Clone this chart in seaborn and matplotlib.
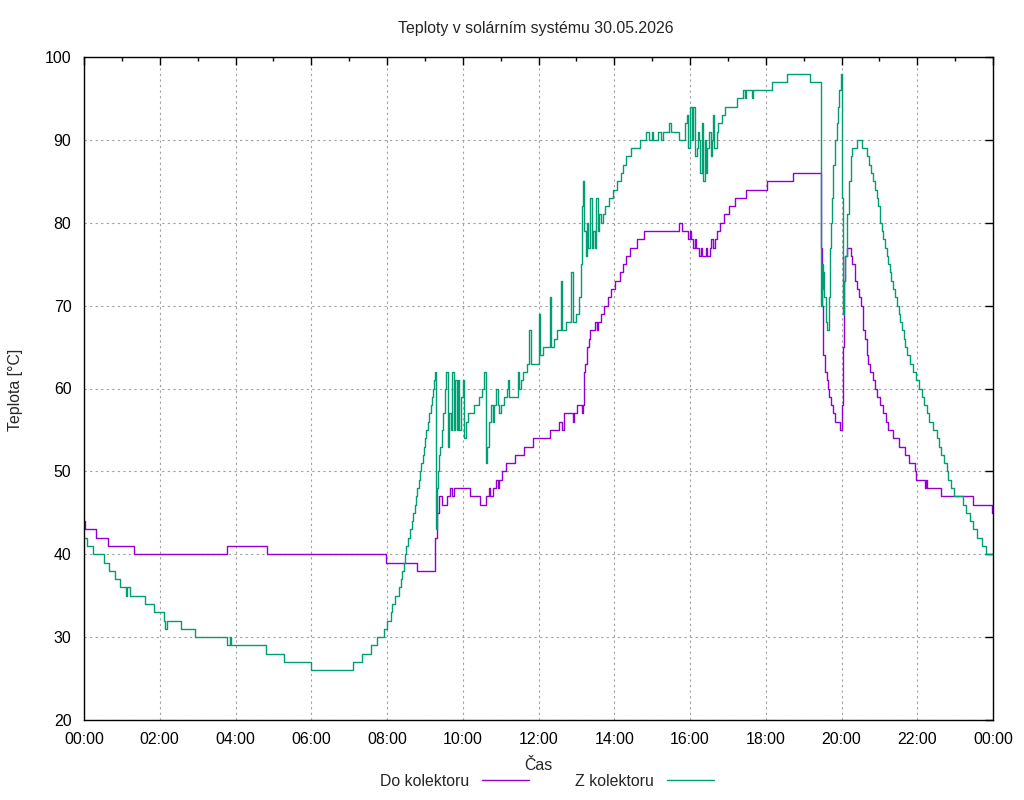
import matplotlib
matplotlib.use('Agg')
import matplotlib.pyplot as plt
import seaborn as sns

# teplota do kolektoru (cas v hodinach, teplota ve °C), schodovity prubeh
do_time = [0.0, 0.03, 0.31, 0.63, 1.32, 3.78, 4.83, 7.97, 8.8, 9.28, 9.31, 9.36, 9.46, 9.58,
           9.66, 9.72, 9.76, 10.19, 10.46, 10.61, 10.68, 10.72, 10.8, 10.88, 10.93, 10.96,
           11.03, 11.13, 11.38, 11.62, 11.85, 12.3, 12.55, 12.62, 12.67, 12.9, 12.93, 13.02,
           13.14, 13.17, 13.2, 13.24, 13.29, 13.33, 13.37, 13.48, 13.54, 13.57, 13.66, 13.72,
           13.83, 13.92, 14.01, 14.14, 14.23, 14.32, 14.42, 14.6, 14.78, 15.72, 15.78, 15.96,
           16.0, 16.03, 16.08, 16.12, 16.17, 16.24, 16.28, 16.32, 16.43, 16.46, 16.52, 16.56,
           16.61, 16.65, 16.7, 16.78, 16.91, 17.03, 17.2, 17.48, 18.04, 18.71, 19.45, 19.48,
           19.5, 19.52, 19.56, 19.61, 19.65, 19.68, 19.72, 19.77, 19.83, 19.96, 20.02, 20.04,
           20.07, 20.09, 20.14, 20.24, 20.29, 20.36, 20.42, 20.46, 20.51, 20.56, 20.62, 20.67,
           20.71, 20.75, 20.82, 20.88, 20.95, 21.02, 21.09, 21.17, 21.24, 21.37, 21.53, 21.68,
           21.79, 21.94, 21.98, 22.21, 22.24, 22.27, 22.64, 23.48, 23.98, 24.0]
do_temp = [44, 43, 42, 41, 40, 41, 40, 39, 38, 42, 45, 47, 46, 47,
           48, 47, 48, 47, 46, 47, 48, 47, 48, 49, 48, 49,
           50, 51, 52, 53, 54, 55, 56, 55, 57, 56, 57, 58,
           57, 58, 62, 63, 65, 66, 67, 68, 67, 68, 69, 70,
           71, 72, 73, 74, 75, 76, 77, 78, 79, 80, 79, 78,
           79, 78, 77, 78, 77, 76, 77, 76, 77, 76, 77, 78,
           77, 78, 79, 80, 81, 82, 83, 84, 85, 86, 77, 70,
           68, 64, 62, 61, 60, 59, 58, 57, 56, 55, 58, 65,
           73, 76, 77, 76, 75, 73, 72, 71, 70, 67, 66, 64,
           63, 62, 61, 60, 59, 58, 57, 56, 55, 54, 53, 52,
           51, 50, 49, 48, 49, 48, 47, 46, 45, 45]

# teplota z kolektoru
z_time = [0.0, 0.09, 0.25, 0.53, 0.66, 0.81, 0.95, 1.12, 1.14, 1.21, 1.61, 1.85, 2.11, 2.15,
          2.18, 2.55, 2.93, 3.77, 3.85, 3.87, 4.8, 5.28, 6.0, 7.11, 7.33, 7.59, 7.74, 7.92,
          8.01, 8.1, 8.14, 8.21, 8.32, 8.36, 8.4, 8.45, 8.47, 8.51, 8.55, 8.6, 8.65, 8.69,
          8.73, 8.77, 8.8, 8.84, 8.87, 8.91, 8.94, 8.97, 9.0, 9.04, 9.08, 9.12, 9.16, 9.19,
          9.22, 9.25, 9.27, 9.29, 9.31, 9.34, 9.38, 9.41, 9.45, 9.49, 9.53, 9.56, 9.6, 9.64,
          9.69, 9.72, 9.76, 9.8, 9.85, 9.88, 9.91, 9.95, 10.0, 10.04, 10.08, 10.15, 10.3,
          10.42, 10.5, 10.57, 10.61, 10.64, 10.68, 10.74, 10.79, 10.83, 10.88, 10.92, 10.96,
          11.0, 11.08, 11.16, 11.2, 11.23, 11.45, 11.48, 11.53, 11.6, 11.69, 11.76, 11.79,
          12.02, 12.05, 12.11, 12.3, 12.34, 12.42, 12.5, 12.59, 12.62, 12.72, 12.87, 12.9,
          12.98, 13.08, 13.13, 13.16, 13.18, 13.21, 13.25, 13.29, 13.32, 13.36, 13.4, 13.44,
          13.48, 13.52, 13.56, 13.6, 13.65, 13.7, 13.76, 13.87, 13.97, 14.07, 14.17, 14.23,
          14.3, 14.45, 14.67, 14.83, 14.93, 15.0, 15.02, 15.16, 15.24, 15.3, 15.45, 15.5,
          15.72, 15.87, 15.91, 15.96, 16.0, 16.04, 16.09, 16.13, 16.18, 16.22, 16.24, 16.26,
          16.31, 16.35, 16.4, 16.42, 16.46, 16.5, 16.55, 16.58, 16.6, 16.63, 16.7, 16.75,
          16.84, 16.92, 17.23, 17.41, 17.45, 17.48, 17.63, 17.66, 18.16, 18.55, 19.17, 19.45,
          19.47, 19.49, 19.5, 19.52, 19.55, 19.58, 19.63, 19.66, 19.7, 19.72, 19.76, 19.78,
          19.83, 19.87, 19.9, 19.94, 19.98, 20.02, 20.04, 20.07, 20.09, 20.14, 20.15, 20.19,
          20.21, 20.24, 20.29, 20.4, 20.53, 20.67, 20.73, 20.77, 20.82, 20.88, 20.93, 20.97,
          21.02, 21.06, 21.1, 21.15, 21.19, 21.24, 21.28, 21.32, 21.35, 21.41, 21.47, 21.51,
          21.54, 21.61, 21.65, 21.68, 21.74, 21.81, 21.88, 21.98, 22.05, 22.12, 22.18, 22.25,
          22.32, 22.42, 22.53, 22.58, 22.64, 22.71, 22.78, 22.82, 22.88, 22.97, 23.2, 23.29,
          23.38, 23.46, 23.59, 23.7, 23.81, 24.0]
z_temp = [42, 41, 40, 39, 38, 37, 36, 35, 36, 35, 34, 33, 32, 31,
          32, 31, 30, 29, 30, 29, 28, 27, 26, 27, 28, 29, 30, 31,
          32, 33, 34, 35, 36, 37, 38, 39, 40, 41, 42, 43, 44, 45,
          46, 47, 48, 49, 50, 51, 52, 53, 54, 55, 56, 57, 58, 59,
          60, 61, 62, 43, 48, 50, 52, 53, 55, 57, 60, 62, 53, 57,
          55, 62, 55, 61, 55, 61, 55, 59, 61, 54, 56, 57, 58,
          59, 60, 62, 51, 53, 56, 58, 56, 58, 60, 58, 57,
          58, 59, 60, 61, 59, 62, 60, 61, 62, 63, 67, 63,
          69, 64, 65, 71, 65, 66, 67, 73, 67, 68, 74, 68,
          69, 71, 75, 82, 85, 79, 76, 80, 77, 83, 77, 79,
          77, 83, 79, 81, 80, 81, 82, 83, 84, 85, 86, 87,
          88, 89, 90, 91, 90, 91, 90, 91, 90, 91, 92, 91,
          90, 92, 93, 89, 94, 90, 94, 88, 89, 91, 90, 86,
          92, 85, 90, 86, 89, 91, 88, 90, 93, 89, 91, 92,
          93, 94, 95, 96, 95, 96, 95, 96, 97, 98, 97, 89,
          70, 75, 72, 74, 71, 68, 67, 71, 77, 80, 83, 87,
          90, 92, 94, 96, 98, 83, 69, 73, 76, 78, 81, 83,
          85, 88, 89, 90, 89, 88, 87, 86, 85, 84, 83, 82,
          80, 79, 78, 77, 76, 75, 74, 73, 72, 71, 70, 69,
          68, 67, 66, 65, 64, 63, 62, 61, 60, 59, 58, 57,
          56, 55, 54, 53, 52, 51, 50, 49, 48, 47, 46, 45,
          44, 43, 42, 41, 40, 40]

hour_ticks = list(range(0, 25, 2))
hour_labels = ['%02d:00' % (h % 24) for h in hour_ticks]
temp_ticks = list(range(20, 101, 10))

sns.set_style('white')
plt.rcParams['font.family'] = ['Liberation Sans', 'DejaVu Sans']
fs = 11.4
plt.rcParams['font.size'] = fs

fig = plt.figure(figsize=(10.24, 8), dpi=100)
ax = fig.add_axes([84 / 1024, 80 / 800, 909 / 1024, 663 / 800])

sns.lineplot(x=do_time, y=do_temp, ax=ax, color='#9400d3', linewidth=1,
             drawstyle='steps-post', estimator=None, sort=False)
sns.lineplot(x=z_time, y=z_temp, ax=ax, color='#009e73', linewidth=1,
             drawstyle='steps-post', estimator=None, sort=False)

ax.set_xlim(0, 24)
ax.set_ylim(20, 100)
ax.set_xticks(hour_ticks, hour_labels)
ax.set_xticks(range(1, 24, 2), minor=True)
ax.set_yticks(temp_ticks)
ax.tick_params(which='both', direction='in', top=True, right=True, width=1,
               colors='black', labelsize=fs)
ax.tick_params(which='major', length=6)
ax.tick_params(axis='x', which='major', pad=9)
ax.tick_params(axis='y', which='major', pad=9)
ax.tick_params(which='minor', length=3)
ax.grid(True, which='major', color='#a0a0a0', linestyle=(0, (2, 3)), linewidth=0.8)
for s in ax.spines.values():
    s.set_linewidth(1)
    s.set_color('black')
ax.set_xlabel('')
ax.set_ylabel('')

fig.text(0.523, 1 - 28 / 800, 'Teploty v solárním systému 30.05.2026', ha='center', va='center', fontsize=fs)
fig.text(16 / 1024, 1 - 390 / 800, 'Teplota [°C]', rotation=90, ha='center', va='center', fontsize=fs)
fig.text(538 / 1024, 1 - 765 / 800, 'Čas', ha='center', va='center', fontsize=fs)

lines = ax.get_lines()
fig.legend([lines[0], lines[1]], ['Do kolektoru', 'Z kolektoru'], loc='center',
           bbox_to_anchor=(547 / 1024, 19 / 800), ncol=2, frameon=False, markerfirst=False,
           handlelength=3.0, handletextpad=0.8, columnspacing=2.9, fontsize=fs)

fig.savefig('out.png', dpi=100)
